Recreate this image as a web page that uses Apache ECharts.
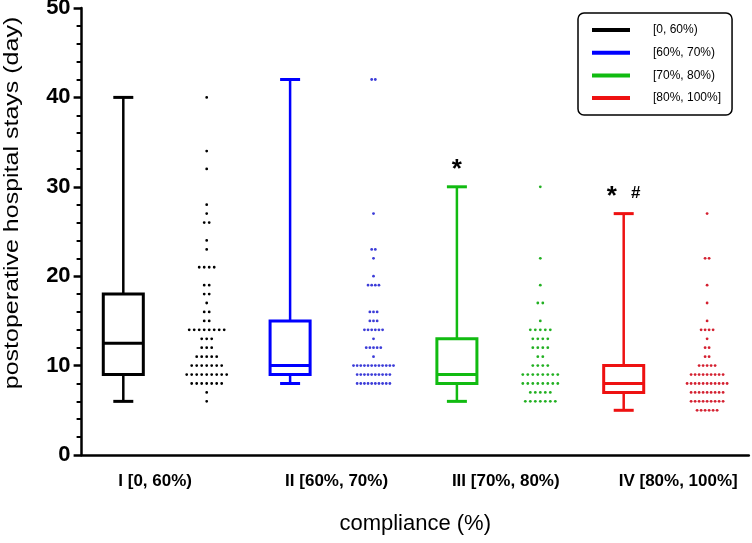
<!DOCTYPE html>
<html lang="en">
<head>
<meta charset="UTF-8" />
<title>postoperative hospital stays by compliance</title>
<script src="https://cdn.jsdelivr.net/npm/echarts@6/dist/echarts.min.js"></script>
<style>
  html, body { margin: 0; padding: 0; background: #fff; }
  #chart { width: 752px; height: 543px; }
</style>
</head>
<body>
<div id="chart"></div>
<script>
  // x slots: box then dot column for each compliance group
  const slots = ['I [0, 60%)', '', 'II [60%, 70%)', '', 'III [70%, 80%)', '', 'IV [80%, 100%]', ''];
  const groupNames = ['[0, 60%)', '[60%, 70%)', '[70%, 80%)', '[80%, 100%]'];
  const boxColors = ['#000000', '#0000ff', '#11bb11', '#ee1111'];
  const dotColors = ['#000000', '#3c3cd8', '#22b022', '#d42030'];
  const yTicks = [0, 10, 20, 30, 40, 50];

  // min, Q1, median, Q3, max
  const boxStats = [
    [6, 9, 12.5, 18, 40],
    [8, 9, 10, 15, 42],
    [6, 8, 9, 13, 30],
    [5, 7, 8, 10, 27]
  ];

  // dot plot rows: stay (day) and how many patients sit on that row
  const daysI = [40, 34, 32, 28, 27, 26, 24, 23, 21, 19, 18, 17, 16, 15, 14, 13, 12, 11, 10, 9, 8, 7, 6];
  const countsI = [1, 1, 1, 1, 1, 2, 1, 1, 4, 2, 2, 1, 2, 2, 8, 3, 3, 5, 7, 9, 7, 1, 1];
  const daysII = [42, 27, 23, 22, 20, 19, 16, 15, 14, 13, 12, 11, 10, 9, 8];
  const countsII = [2, 1, 2, 1, 1, 4, 3, 3, 6, 1, 5, 1, 12, 10, 10];
  const daysIII = [30, 22, 19, 17, 15, 14, 13, 12, 11, 10, 9, 8, 7, 6];
  const countsIII = [1, 1, 1, 2, 1, 5, 4, 4, 2, 4, 8, 8, 5, 7];
  const daysIV = [27, 22, 19, 17, 15, 14, 13, 12, 11, 10, 9, 8, 7, 6, 5];
  const countsIV = [1, 2, 1, 1, 1, 4, 1, 2, 2, 5, 9, 11, 9, 9, 6];

  // significance marks above each box whisker
  const marks = [[], [], ['*'], ['*', '#']];

  const FONT = '"Liberation Sans", Arial, sans-serif';
  const chart = echarts.init(document.getElementById('chart'));

  function boxSeries(g) {
    const s = boxStats[g];
    return {
      type: 'custom',
      name: groupNames[g],
      itemStyle: { color: boxColors[g] },
      data: [[g * 2].concat(s)],
      renderItem: function (params, api) {
        const x = api.value(0);
        const lo = api.coord([x, api.value(1)]);
        const q1 = api.coord([x, api.value(2)]);
        const md = api.coord([x, api.value(3)]);
        const q3 = api.coord([x, api.value(4)]);
        const hi = api.coord([x, api.value(5)]);
        const cx = lo[0];
        const half = api.size([1, 0])[0] * 0.24;
        const cap = 10;
        const color = api.visual('color');
        const thick = { stroke: color, lineWidth: 3, fill: null };
        const thin = { stroke: color, lineWidth: 2.5 };
        const kids = [
          { type: 'line', shape: { x1: cx, y1: hi[1], x2: cx, y2: q3[1] }, style: thin },
          { type: 'line', shape: { x1: cx, y1: q1[1], x2: cx, y2: lo[1] }, style: thin },
          { type: 'line', shape: { x1: cx - cap, y1: hi[1], x2: cx + cap, y2: hi[1] }, style: { stroke: color, lineWidth: 3 } },
          { type: 'line', shape: { x1: cx - cap, y1: lo[1], x2: cx + cap, y2: lo[1] }, style: { stroke: color, lineWidth: 3 } },
          { type: 'rect', shape: { x: cx - half, y: q3[1], width: half * 2, height: q1[1] - q3[1] }, style: thick },
          { type: 'line', shape: { x1: cx - half, y1: md[1], x2: cx + half, y2: md[1] }, style: { stroke: color, lineWidth: 3 } }
        ];
        const m = marks[g];
        m.forEach(function (t, k) {
          kids.push({
            type: 'text',
            style: {
              x: cx + (k - (m.length - 1) / 2) * 24,
              y: hi[1] - (t === '*' ? 4 : 12),
              text: t,
              font: 'bold ' + (t === '*' ? 26 : 17) + 'px ' + FONT,
              fill: '#000',
              align: 'center',
              verticalAlign: t === '*' ? 'bottom' : 'bottom'
            }
          });
        });
        return { type: 'group', children: kids };
      }
    };
  }

  function dotSeries(g, days, counts) {
    const maxCount = Math.max.apply(null, counts);
    const step = Math.min(5, 40 / (maxCount - 1));
    return {
      type: 'custom',
      name: groupNames[g],
      itemStyle: { color: dotColors[g] },
      data: days.map(function (d, i) { return [g * 2 + 1, d, counts[i]]; }),
      renderItem: function (params, api) {
        const c = api.coord([api.value(0), api.value(1)]);
        const n = api.value(2);
        const kids = [];
        for (let k = 0; k < n; k++) {
          kids.push({
            type: 'circle',
            shape: { cx: c[0] + (k - (n - 1) / 2) * step, cy: c[1], r: 1.4 },
            style: { fill: api.visual('color') }
          });
        }
        return { type: 'group', children: kids };
      }
    };
  }

  const option = {
    animation: false,
    backgroundColor: '#fff',
    grid: { left: 81.6, right: 3.2, top: 8, bottom: 88, outerBoundsMode: 'none' },
    legend: {
      orient: 'vertical',
      left: 578,
      top: 13,
      padding: [10, 11, 10, 14],
      itemGap: 8.7,
      itemWidth: 38,
      itemHeight: 4,
      icon: 'rect',
      selectedMode: false,
      borderColor: '#000',
      borderWidth: 1.5,
      borderRadius: 6,
      data: groupNames,
      textStyle: { fontFamily: FONT, fontSize: 12, color: '#000', lineHeight: 14, padding: [0, 0, 0, 18] }
    },
    xAxis: {
      type: 'category',
      data: slots,
      name: 'compliance (%)',
      nameLocation: 'middle',
      nameGap: 58,
      nameTextStyle: { fontFamily: FONT, fontSize: 22, color: '#000' },
      axisLine: { lineStyle: { color: '#000', width: 2.5 } },
      axisTick: { alignWithLabel: true, length: 7, lineStyle: { color: '#000', width: 2.5 } },
      axisLabel: {
        interval: 0,
        align: 'left',
        margin: 18,
        padding: [0, 0, 0, -5],
        fontFamily: FONT,
        fontWeight: 'bold',
        fontSize: 17,
        color: '#000'
      },
      splitLine: { show: false }
    },
    yAxis: {
      type: 'value',
      min: yTicks[0],
      max: yTicks[yTicks.length - 1],
      interval: yTicks[1] - yTicks[0],
      axisLine: { show: true, lineStyle: { color: '#000', width: 2.5 } },
      axisTick: { show: true, length: 8, lineStyle: { color: '#000', width: 2.5 } },
      minorTick: { show: true, splitNumber: 5, length: 5, lineStyle: { color: '#000', width: 2 } },
      axisLabel: { margin: 11, fontFamily: FONT, fontWeight: 'bold', fontSize: 22, color: '#000' },
      splitLine: { show: false }
    },
    graphic: [{
      type: 'text',
      x: 12,
      y: 203,
      rotation: Math.PI / 2,
      scaleX: 1.25,
      style: {
        text: 'postoperative hospital stays (day)',
        font: '20px ' + FONT,
        fill: '#000',
        align: 'center',
        verticalAlign: 'middle'
      }
    }],
    series: [
      boxSeries(0), boxSeries(1), boxSeries(2), boxSeries(3),
      dotSeries(0, daysI, countsI),
      dotSeries(1, daysII, countsII),
      dotSeries(2, daysIII, countsIII),
      dotSeries(3, daysIV, countsIV)
    ]
  };

  chart.setOption(option);
</script>
</body>
</html>
